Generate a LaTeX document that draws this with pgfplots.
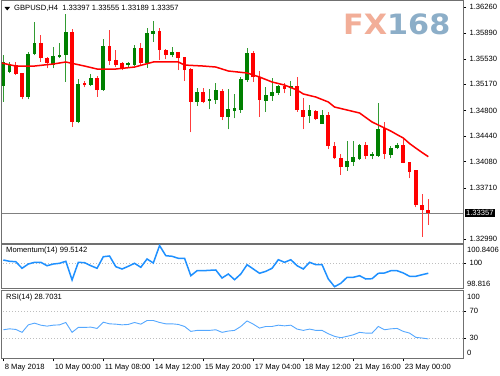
\documentclass[border=0pt]{standalone}
\usepackage{fontspec}
\setmainfont{Liberation Sans}
\newfontfamily\wmfont{DejaVu Sans}
\usepackage{pgfplots}
\usepackage{pgfplotstable}
\pgfplotsset{compat=1.18}
\definecolor{bordercol}{RGB}{112,112,112}
\definecolor{bullc}{RGB}{0,128,0}
\definecolor{bullw}{RGB}{50,155,50}
\definecolor{bearc}{RGB}{255,0,0}
\definecolor{bearw}{RGB}{255,60,60}
\definecolor{maline}{RGB}{255,0,0}
\definecolor{momc}{RGB}{30,144,255}
\definecolor{rsic}{RGB}{85,168,255}
\definecolor{fxsal}{RGB}{242,174,152}
\definecolor{fxblue}{RGB}{140,174,200}
\definecolor{dotc}{RGB}{190,190,190}
\newcommand\sz{\fontsize{7.6pt}{9pt}\selectfont}

\pgfplotstableread{
i o h l c
0 1.35146 1.35583 1.34921 1.35485
1 1.35348 1.35489 1.35325 1.35442
4 1.34995 1.35630 1.34959 1.35598
5 1.35598 1.36045 1.35583 1.35748
8 1.35442 1.35700 1.35396 1.35560
9 1.35551 1.35757 1.35537 1.35583
10 1.35583 1.36162 1.35207 1.35904
12 1.34643 1.35241 1.34620 1.35175
14 1.35161 1.35316 1.35146 1.35255
16 1.35090 1.35805 1.35080 1.35710
20 1.35442 1.35489 1.35419 1.35466
21 1.35442 1.35725 1.35433 1.35678
23 1.35466 1.35960 1.35404 1.35890
24 1.35880 1.36067 1.35771 1.35922
27 1.35583 1.35700 1.35551 1.35622
31 1.34925 1.35114 1.34864 1.35052
33 1.34939 1.35100 1.34818 1.34963
34 1.34949 1.35193 1.34893 1.35080
36 1.34705 1.35100 1.34536 1.34818
37 1.34798 1.35029 1.34691 1.34832
38 1.34808 1.35269 1.34770 1.35245
39 1.35231 1.35678 1.35207 1.35608
42 1.34939 1.35128 1.34784 1.35010
43 1.35010 1.35255 1.34939 1.35058
44 1.35052 1.35161 1.35020 1.35146
46 1.35114 1.35221 1.35010 1.35146
49 1.34723 1.34879 1.34629 1.34808
51 1.34611 1.34808 1.34611 1.34738
55 1.34000 1.34375 1.33952 1.34089
56 1.34079 1.34375 1.34023 1.34135
57 1.34113 1.34329 1.34103 1.34315
59 1.34159 1.34220 1.34113 1.34178
60 1.34164 1.34903 1.34150 1.34540
62 1.34174 1.34305 1.34127 1.34268
63 1.34268 1.34339 1.34254 1.34315
}\bull

\pgfplotstableread{
i o h l c
2 1.35442 1.35489 1.35301 1.35316
3 1.35325 1.35334 1.34959 1.34995
6 1.35748 1.35865 1.35489 1.35537
7 1.35537 1.35551 1.35396 1.35466
11 1.35904 1.35946 1.34573 1.34643
13 1.35185 1.35221 1.35128 1.35156
15 1.35255 1.35287 1.34995 1.35090
17 1.35710 1.35936 1.35442 1.35503
18 1.35513 1.35654 1.35419 1.35442
19 1.35466 1.35489 1.35372 1.35396
22 1.35678 1.35748 1.35442 1.35466
25 1.35912 1.35960 1.35513 1.35654
26 1.35654 1.35664 1.35523 1.35583
28 1.35622 1.35630 1.35372 1.35537
29 1.35545 1.35560 1.35217 1.35372
30 1.35382 1.35396 1.34494 1.34925
32 1.35052 1.35114 1.34903 1.34925
35 1.35066 1.35100 1.34667 1.34714
40 1.35608 1.35644 1.35207 1.35269
41 1.35269 1.35358 1.34714 1.34949
45 1.35137 1.35185 1.35044 1.35104
47 1.35146 1.35269 1.34784 1.34808
48 1.34808 1.34973 1.34536 1.34714
50 1.34794 1.34808 1.34667 1.34681
52 1.34738 1.34776 1.34254 1.34300
53 1.34300 1.34361 1.34113 1.34127
54 1.34127 1.34188 1.33892 1.34000
58 1.34305 1.34361 1.34117 1.34159
61 1.34550 1.34643 1.34117 1.34188
64 1.34315 1.34395 1.34057 1.34065
65 1.34071 1.34079 1.33845 1.33938
66 1.33952 1.33962 1.33436 1.33469
67 1.33469 1.33624 1.33022 1.33397
68 1.33397 1.33555 1.33189 1.33357
}\bear

\pgfplotstableread{
i m
0 100.130
1 100.070
2 100.051
3 99.745
4 99.944
5 100.023
6 100.023
7 99.865
8 99.944
9 99.977
10 100.070
11 99.201
12 100.023
13 100.005
14 99.865
15 99.745
16 100.283
17 100.316
18 99.819
19 99.712
20 99.838
21 99.977
22 99.791
23 100.177
24 99.991
25 100.800
26 100.330
27 100.302
28 100.209
29 100.209
30 99.401
31 99.633
32 99.633
33 99.652
34 99.666
35 99.294
36 99.480
37 99.215
38 99.480
39 99.912
40 99.712
41 99.513
42 99.605
43 99.745
44 100.144
45 100.023
46 100.144
47 99.865
48 99.712
49 100.023
50 99.912
51 99.912
52 99.248
53 98.890
54 99.048
55 99.327
56 99.327
57 99.401
58 99.248
59 99.262
60 99.513
61 99.527
62 99.633
63 99.633
64 99.527
65 99.373
66 99.373
67 99.447
68 99.514
}\mom

\pgfplotstableread{
i r
0 42.2
1 43.6
2 42.7
3 38.4
4 49.5
5 52.0
6 49.0
7 47.6
8 49.0
9 49.5
10 53.0
11 38.4
12 45.7
13 45.7
14 46.1
15 44.2
16 53.4
17 51.0
18 50.5
19 49.5
20 50.1
21 53.0
22 50.5
23 55.9
24 55.9
25 53.0
26 51.0
27 51.0
28 50.1
29 47.1
30 39.8
31 41.3
32 41.3
33 41.3
34 42.2
35 38.4
36 40.3
37 41.3
38 47.1
39 55.3
40 50.5
41 44.7
42 47.1
43 47.1
44 49.0
45 48.0
46 49.0
47 43.2
48 41.3
49 43.2
50 41.3
51 41.3
52 36.3
53 32.5
54 30.4
55 32.5
56 34.8
57 38.4
58 37.3
59 37.3
60 47.1
61 42.2
62 43.6
63 44.2
64 39.8
65 37.3
66 31.0
67 30.0
68 28.7
}\rsi

\pgfplotsset{mt/.style={scale only axis, anchor=south west, width=461pt,
  xmin=-0.21, xmax=73.55,
  axis line style={draw=bordercol, line width=1pt},
  tick style={draw=black, line width=0.5pt},
  tick align=outside, major tick length=3pt,
  ytick pos=right, yticklabel pos=right,
  xtick=\empty,
  tick label style={font=\sz},
  /pgf/number format/assume math mode=true,
  scaled y ticks=false},
  candle/.style 2 args={only marks, mark=*, mark size=0.01pt,
  mark options={draw opacity=0, fill opacity=0},
  error bars/.cd, y dir=plus, y explicit, error mark=none,
  error bar style={draw=#1, line width=#2}}}

\begin{document}
\begin{tikzpicture}[font=\sz]
\path[use as bounding box, fill=white] (0,0) rectangle (500pt,375pt);

% main chart
\begin{axis}[mt, at={(2pt,132pt)}, height=242pt,
  ymin=1.32933, ymax=1.36345,
  ytick={1.3299,1.3371,1.3408,1.3444,1.348,1.3517,1.3553,1.3589,1.3626},
  yticklabel style={/pgf/number format/.cd, fixed, fixed zerofill, precision=5}]
\addplot[color={rgb,255:red,128;green,128;blue,128}, line width=0.8pt] coordinates {(-1,1.33357) (75,1.33357)};
\addplot[candle={bullw}{0.9pt}]
  table[x=i, y=l, y error plus expr=\thisrow{h}-\thisrow{l}] {\bull};
\addplot[candle={bearw}{0.9pt}]
  table[x=i, y=l, y error plus expr=\thisrow{h}-\thisrow{l}] {\bear};
\addplot[candle={bullc}{3.8pt}]
  table[x=i, y=o, y error plus expr=\thisrow{c}-\thisrow{o}+0.00004] {\bull};
\addplot[candle={bearc}{3.8pt}]
  table[x=i, y=c, y error plus expr=\thisrow{o}-\thisrow{c}+0.00004] {\bear};
\addplot[maline, line width=1.5pt] coordinates {
(-0.3,1.35471) (2,1.35428) (5,1.35428) (8,1.35457) (10,1.35485) (13,1.35428)
(15,1.35386) (18,1.35386) (21,1.35414) (24,1.35485) (28,1.35485) (29,1.35442)
(32,1.35428) (34,1.35414) (36,1.35358) (39,1.35330) (41,1.35273) (43,1.35203)
(45,1.35160) (47,1.35090) (48,1.35034) (50,1.34991) (52,1.34921) (53,1.34850)
(55,1.34808) (57,1.34766) (59,1.34639) (61,1.34554) (62,1.34511) (63,1.34461)
(64,1.34413) (65,1.34335) (66,1.34271) (67,1.34209) (68,1.34150)};
\coordinate (pl) at (axis cs:73.55,1.33357);
\end{axis}
\node[fill=black, text=white, anchor=west, inner sep=1.4pt, font=\sz] at ([xshift=1.5pt]pl) {1.33357};

% header
\fill[black] (4.5pt,368pt) -- (10pt,368pt) -- (7.25pt,364.5pt) -- cycle;
\node[anchor=west, inner sep=0pt, font=\sz] at (14pt,366.5pt) {GBPUSD,H4\ \ 1.33397 1.33555 1.33189 1.33357};
% watermark
\node[anchor=west, inner sep=0pt, font=\wmfont\bfseries\fontsize{28pt}{30pt}\selectfont, xscale=1.08] at (343pt,351pt) {\textcolor{fxsal}{FX}\textcolor{fxblue}{168}};

% momentum
\begin{axis}[mt, at={(2pt,86.7pt)}, height=43.6pt,
  ymin=98.816, ymax=100.8406, ytick={100}]
\addplot[dotc, line width=0.6pt, dash pattern=on 1pt off 2pt] coordinates {(-1,100) (75,100)};
\addplot[momc, line width=1.5pt] table[x=i, y=m] {\mom};
\end{axis}
\node[anchor=west, inner sep=0pt] at (6pt,124pt) {Momentum(14) 99.5142};
\node[anchor=west, inner sep=0pt] at (467pt,125pt) {100.8406};
\node[anchor=west, inner sep=0pt] at (467pt,91pt) {98.816};

% RSI
\begin{axis}[mt, at={(2pt,16.7pt)}, height=67.6pt,
  ymin=0, ymax=100, ytick={30,70},
  xtick={0,8,16,24,32,40,48,56,64}, xtick pos=bottom,
  xticklabels={8 May 2018, 10 May 00:00, 11 May 08:00, 14 May 12:00, 15 May 20:00, 17 May 04:00, 18 May 12:00, 21 May 16:00, 23 May 00:00},
  xticklabel style={anchor=north west, xshift=-2pt, yshift=1pt}]
\addplot[dotc, line width=0.6pt, dash pattern=on 1pt off 2pt] coordinates {(-1,70) (75,70)};
\addplot[dotc, line width=0.6pt, dash pattern=on 1pt off 2pt] coordinates {(-1,30) (75,30)};
\addplot[rsic, line width=0.9pt] table[x=i, y=r] {\rsi};
\end{axis}
\node[anchor=west, inner sep=0pt] at (6pt,77pt) {RSI(14) 28.7031};
\node[anchor=west, inner sep=0pt] at (467pt,78pt) {100};
\node[anchor=west, inner sep=0pt] at (467pt,22pt) {0};
\end{tikzpicture}
\end{document}
